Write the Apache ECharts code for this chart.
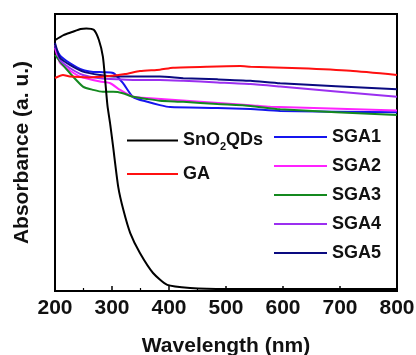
<!DOCTYPE html>
<html>
<head>
<meta charset="utf-8">
<script src="https://cdn.jsdelivr.net/npm/echarts@6/dist/echarts.min.js"></script>
<style>
  html, body { margin: 0; padding: 0; background: #fff; }
  #chart { width: 416px; height: 355px; }
</style>
</head>
<body>
<div id="chart"></div>
<script>
// wavelength ticks
const xTicks = [200, 300, 400, 500, 600, 700, 800];

// SnO2 QDs
const sno2X = [200, 215, 230, 245, 255, 268, 277, 284, 288, 292, 297, 302, 311, 320, 332, 349, 372, 397, 437, 500, 800];
const sno2Y = [90.6, 92.4, 93.5, 94.6, 94.8, 94.3, 90.6, 84.6, 76.2, 67, 60, 52, 37.5, 29.2, 20.9, 13.7, 6.5, 2.2, 1.1, 0.7, 0.7];

// GA
const gaX = [200, 214, 226, 261, 291, 323, 349, 384, 407, 467, 525, 543, 630, 718, 800];
const gaY = [76.9, 78.0, 77.4, 77.1, 77.5, 78.3, 79.4, 79.9, 80.6, 81.0, 81.2, 81.0, 80.4, 79.5, 78.0];

// SGA1
const sga1X = [200, 209, 226, 249, 267, 284, 302, 319, 337, 362, 384, 402, 485, 543, 595, 800];
const sga1Y = [88.2, 85.0, 82.3, 79.8, 79.1, 79.0, 78.7, 75.1, 70.0, 68.3, 67.1, 66.4, 66.1, 65.7, 65.0, 64.5];

// SGA2
const sga2X = [200, 209, 226, 244, 279, 297, 314, 337, 367, 543, 578, 800];
const sga2Y = [87.7, 82.3, 79.6, 77.4, 75.6, 75.0, 72.6, 70.1, 69.6, 67.1, 66.5, 65.2];

// SGA3
const sga3X = [200, 209, 226, 249, 267, 284, 302, 319, 337, 362, 384, 425, 485, 543, 595, 800];
const sga3Y = [85.2, 82.8, 78.7, 73.8, 72.6, 71.9, 71.9, 71.4, 70.1, 69.3, 68.7, 68.3, 67.5, 66.8, 65.6, 63.5];

// SGA4
const sga4X = [200, 209, 226, 249, 279, 309, 337, 384, 425, 485, 543, 595, 800];
const sga4Y = [88.8, 83.4, 80.5, 78.0, 76.8, 76.4, 76.2, 76.2, 75.9, 75.3, 74.7, 73.8, 70.1];

// SGA5
const sga5X = [200, 209, 226, 249, 279, 309, 384, 425, 485, 543, 595, 800];
const sga5Y = [89.5, 84.1, 81.6, 79.2, 78.0, 77.4, 77.4, 76.8, 76.4, 75.9, 75.0, 72.8];

const seriesDefs = [
  { name: 'SGA1', x: sga1X, y: sga1Y, color: '#1515ee' },
  { name: 'SGA2', x: sga2X, y: sga2Y, color: '#ff22ff' },
  { name: 'SGA3', x: sga3X, y: sga3Y, color: '#14891f' },
  { name: 'SGA4', x: sga4X, y: sga4Y, color: '#9b2ff0' },
  { name: 'SGA5', x: sga5X, y: sga5Y, color: '#0a0a80' },
  { name: 'GA', x: gaX, y: gaY, color: '#ff1010' },
  { name: 'SnO2QDs', x: sno2X, y: sno2Y, color: '#000000' }
];

const chart = echarts.init(document.getElementById('chart'));

const font = '"Liberation Sans", Arial, sans-serif';
const legendText = {
  fontFamily: font, fontWeight: 'bold', fontSize: 18, color: '#111',
  rich: {
    b: { fontFamily: font, fontWeight: 'bold', fontSize: 18, color: '#111', lineHeight: 18 },
    sub: { fontFamily: font, fontWeight: 'bold', fontSize: 11, color: '#111', lineHeight: 18, padding: [12, 0, 0, 0] }
  }
};

const option = {
  animation: false,
  backgroundColor: '#fff',
  grid: {
    left: 55, right: 19, top: 14, bottom: 64,
    outerBoundsMode: 'none', containLabel: false,
    show: true, borderColor: '#000', borderWidth: 2
  },
  legend: [
    {
      data: ['SnO2QDs', 'GA'],
      orient: 'vertical', left: 122, top: 124, itemGap: 13, padding: 5,
      icon: 'rect', itemWidth: 51, itemHeight: 2,
      textStyle: legendText,
      formatter: n => n === 'SnO2QDs' ? '{b|SnO}{sub|2}{b|QDs}' : '{b|' + n + '}'
    },
    {
      data: ['SGA1', 'SGA2', 'SGA3', 'SGA4', 'SGA5'],
      orient: 'vertical', left: 269, top: 123, itemGap: 11, padding: 5,
      icon: 'rect', itemWidth: 53, itemHeight: 2,
      textStyle: legendText,
      formatter: n => '{b|' + n + '}'
    }
  ],
  xAxis: {
    type: 'value', min: 200, max: 800, interval: 100,
    name: 'Wavelength (nm)', nameLocation: 'middle', nameGap: 45,
    nameTextStyle: { fontFamily: font, fontWeight: 'bold', fontSize: 21, color: '#111' },
    axisLine: { lineStyle: { color: '#000', width: 2 } },
    axisTick: { inside: true, length: 5, lineStyle: { color: '#000', width: 1.5 } },
    minorTick: { show: true, splitNumber: 2, length: 3, lineStyle: { color: '#000', width: 1.2 } },
    axisLabel: {
      fontFamily: font, fontWeight: 'bold', fontSize: 21, color: '#111', margin: 7,
      formatter: v => xTicks.includes(v) ? String(v) : ''
    },
    splitLine: { show: false }
  },
  yAxis: {
    type: 'value', min: 0, max: 100,
    name: 'Absorbance (a. u.)', nameLocation: 'middle', nameGap: 22,
    nameTextStyle: { fontFamily: font, fontWeight: 'bold', fontSize: 21, color: '#111' },
    axisLine: { show: true, lineStyle: { color: '#000', width: 2 } },
    axisTick: { show: false },
    axisLabel: { show: false },
    splitLine: { show: false }
  },
  series: seriesDefs.map(s => ({
    name: s.name,
    type: 'line',
    smooth: 0.2,
    showSymbol: false,
    symbol: 'none',
    color: s.color,
    lineStyle: { color: s.color, width: 2 },
    data: s.x.map((x, i) => [x, s.y[i]])
  }))
};

chart.setOption(option);
</script>
</body>
</html>
